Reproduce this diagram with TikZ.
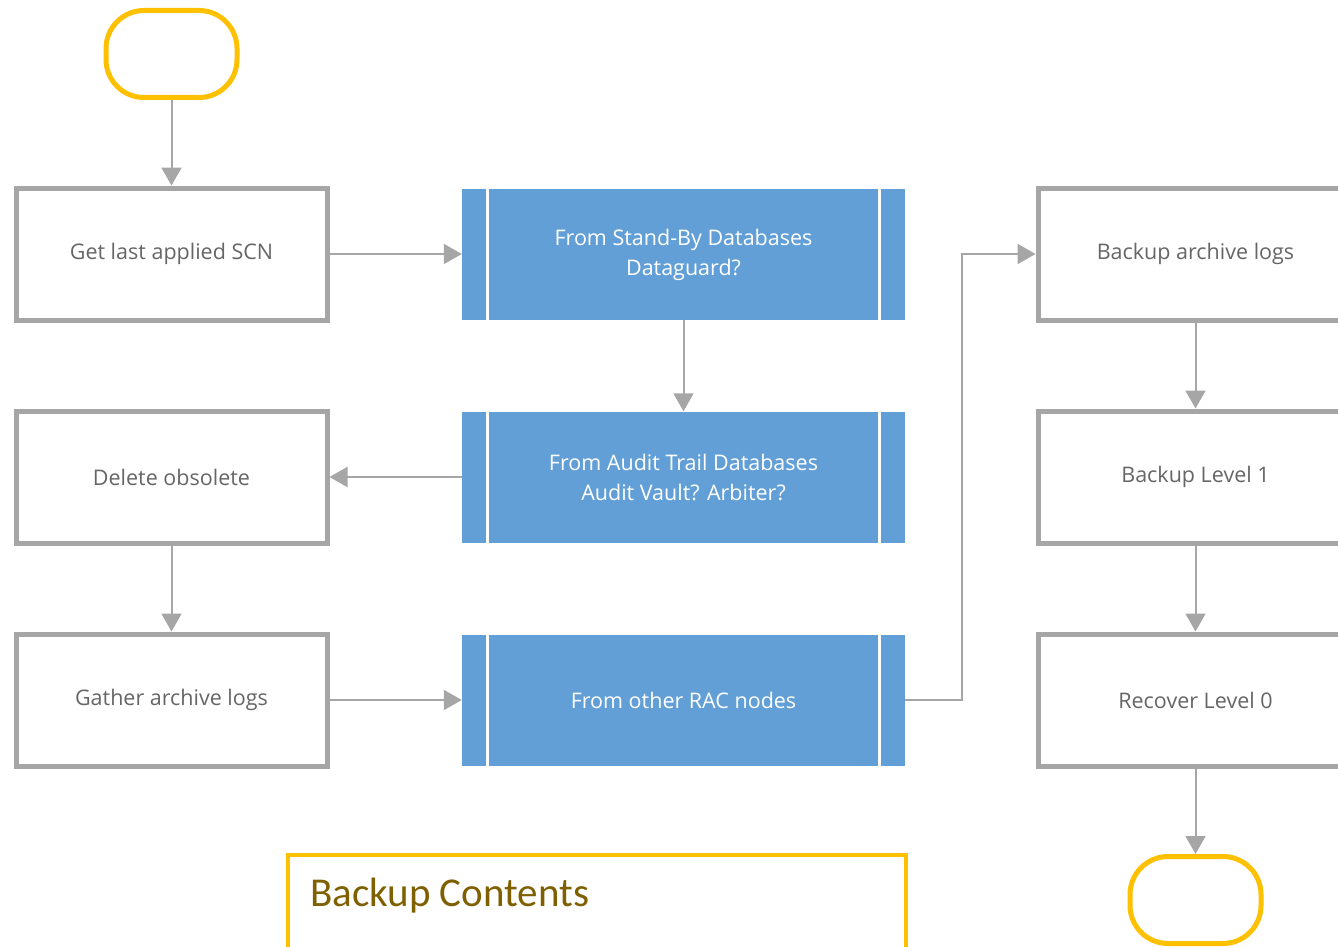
\documentclass[tikz,border=0pt]{standalone}
\usepackage{fontspec}
\setmainfont{Open Sans}
\newfontfamily\calib{Carlito}
\usetikzlibrary{arrows.meta}
\definecolor{ygold}{HTML}{FFC000}
\definecolor{bgray}{HTML}{A6A6A6}
\definecolor{bblue}{HTML}{629FD6}
\definecolor{tgray}{HTML}{666666}
\definecolor{lgold}{HTML}{7F6000}
\begin{document}
\begin{tikzpicture}[x=1pt,y=-1pt,
  proc/.style={draw=bgray, line width=5pt, fill=white, minimum width=311pt, minimum height=132pt, inner sep=0pt, font=\fontsize{21.5}{30}\selectfont, text=tgray, align=center},
  sub/.style={fill=bblue, minimum width=443pt, minimum height=131pt, inner sep=0pt, font=\fontsize{21.5}{30}\selectfont, text=white, align=center},
  term/.style={draw=ygold, line width=5pt, rounded corners=38pt, minimum width=131pt, minimum height=87pt, fill=white},
  flow/.style={draw=bgray, line width=2pt, -{Triangle[length=18pt,width=20pt]}},
  stripe/.style={draw=white, line width=3pt}]
\useasboundingbox (0,0) rectangle (1338,947);
\clip (0,0) rectangle (1338,947);
% terminators
\node[term] (start) at (171.5,54) {};
\node[term] (stop) at (1195.5,900) {};
% left column
\node[proc] (b1) at (171.5,254) {Get last applied SCN};
\node[proc] (b2) at (171.5,477) {Delete obsolete};
\node[proc] (b3) at (171.5,700) {Gather archive logs};
% middle column
\node[sub] (s1) at (683.5,254.5) {From Stand-By Databases\\Dataguard?};
\node[sub] (s2) at (683.5,477) {From Audit Trail Databases\\Audit Vault? Arbiter?};
\node[sub] (s3) at (683.5,700) {From other RAC nodes};
\foreach \s in {s1,s2,s3}{
  \draw[stripe] ([xshift=25.5pt]\s.north west) -- ([xshift=25.5pt]\s.south west);
  \draw[stripe] ([xshift=-25.5pt]\s.north east) -- ([xshift=-25.5pt]\s.south east);
}
% right column
\node[proc, minimum width=315pt] (r1) at (1195.5,254) {Backup archive logs};
\node[proc, minimum width=315pt] (r2) at (1195.5,477) {Backup Level 1};
\node[proc, minimum width=315pt] (r3) at (1195.5,700) {Recover Level 0};
% legend
\node[draw=ygold, line width=4.5pt, fill=white, minimum width=618pt, minimum height=140pt, inner sep=0pt] (legend) at (597,925) {};
\node[anchor=base west, font=\calib\fontsize{41}{44}\selectfont, text=lgold, inner sep=0pt] (legtitle) at (310,906) {Backup Contents};
% connectors
\coordinate (bend) at (962,254);
\draw[flow] (start) -- (b1);
\draw[flow] (b1.east) -- (b1.east -| s1.west);
\draw[flow] (s1) -- (s2);
\draw[flow] (s2.west) -- (s2.west -| b2.east);
\draw[flow] (b2) -- (b3);
\draw[flow] (b3.east) -- (b3.east -| s3.west);
\draw[flow] (s3.east) -| (bend) -- (r1.west);
\draw[flow] (r1) -- (r2);
\draw[flow] (r2) -- (r3);
\draw[flow] (r3) -- (stop);
\end{tikzpicture}
\end{document}
